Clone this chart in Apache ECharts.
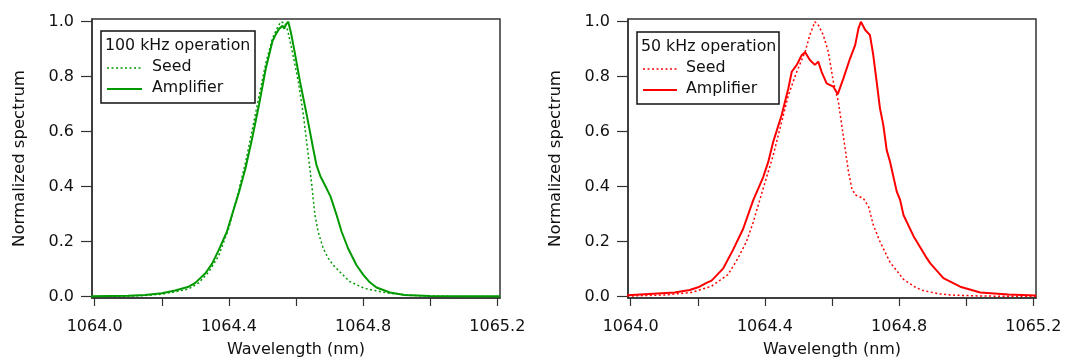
<!DOCTYPE html>
<html>
<head>
<meta charset="utf-8">
<script src="https://cdn.jsdelivr.net/npm/echarts@6/dist/echarts.min.js"></script>
<style>
html,body{margin:0;padding:0;background:#fff;}
#chart{width:1066px;height:360px;}
</style>
</head>
<body>
<div id="chart"></div>
<script>
// ---------- data ----------
const xTicks = [1064.0, 1064.2, 1064.4, 1064.6, 1064.8, 1065.0, 1065.2];
const xLabels = [1064.0, 1064.4, 1064.8, 1065.2];
const yTicks = [0, 0.2, 0.4, 0.6, 0.8, 1.0];

const panelTitles = ['100 kHz operation', '50 kHz operation'];
const seriesNames = ['Seed', 'Amplifier'];

// 100 kHz panel
const ampLeftX = [1063.99, 1064.10, 1064.15, 1064.20, 1064.24, 1064.28, 1064.30, 1064.33, 1064.35, 1064.37, 1064.394, 1064.41, 1064.43, 1064.45, 1064.47, 1064.49, 1064.51, 1064.53, 1064.54, 1064.55, 1064.56, 1064.565, 1064.57, 1064.577, 1064.585, 1064.594, 1064.612, 1064.632, 1064.651, 1064.661, 1064.672, 1064.681, 1064.691, 1064.703, 1064.721, 1064.736, 1064.755, 1064.78, 1064.80, 1064.82, 1064.84, 1064.88, 1064.923, 1065.0, 1065.1, 1065.208];
const ampLeftY = [0.001, 0.003, 0.006, 0.012, 0.022, 0.036, 0.05, 0.085, 0.12, 0.17, 0.236, 0.30, 0.38, 0.47, 0.58, 0.70, 0.83, 0.93, 0.955, 0.975, 0.985, 0.975, 0.99, 1.0, 0.96, 0.903, 0.782, 0.661, 0.54, 0.479, 0.44, 0.418, 0.394, 0.364, 0.297, 0.236, 0.176, 0.115, 0.08, 0.052, 0.033, 0.015, 0.006, 0.002, 0.001, 0.001];

const seedLeftX = [1063.99, 1064.10, 1064.15, 1064.20, 1064.25, 1064.28, 1064.31, 1064.34, 1064.37, 1064.40, 1064.43, 1064.45, 1064.47, 1064.49, 1064.51, 1064.53, 1064.545, 1064.555, 1064.565, 1064.575, 1064.587, 1064.607, 1064.622, 1064.634, 1064.646, 1064.656, 1064.666, 1064.681, 1064.696, 1064.711, 1064.734, 1064.76, 1064.804, 1064.873, 1064.95, 1065.05, 1065.208];
const seedLeftY = [0.0, 0.002, 0.004, 0.009, 0.02, 0.028, 0.05, 0.09, 0.15, 0.25, 0.39, 0.49, 0.61, 0.73, 0.85, 0.94, 0.98, 1.0, 0.995, 0.97, 0.903, 0.782, 0.661, 0.54, 0.418, 0.30, 0.236, 0.176, 0.14, 0.115, 0.086, 0.055, 0.03, 0.013, 0.004, 0.001, 0.0];

// 50 kHz panel
const ampRightX = [1063.99, 1064.131, 1064.176, 1064.201, 1064.226, 1064.241, 1064.266, 1064.276, 1064.305, 1064.335, 1064.365, 1064.395, 1064.41, 1064.425, 1064.45, 1064.47, 1064.48, 1064.495, 1064.51, 1064.52, 1064.534, 1064.549, 1064.559, 1064.569, 1064.584, 1064.604, 1064.617, 1064.634, 1064.654, 1064.669, 1064.679, 1064.686, 1064.699, 1064.713, 1064.723, 1064.733, 1064.743, 1064.753, 1064.763, 1064.773, 1064.793, 1064.803, 1064.813, 1064.843, 1064.883, 1064.893, 1064.932, 1064.982, 1065.042, 1065.126, 1065.208];
const ampRightY = [0.005, 0.015, 0.024, 0.034, 0.05, 0.058, 0.09, 0.103, 0.17, 0.246, 0.35, 0.435, 0.49, 0.564, 0.661, 0.758, 0.818, 0.843, 0.879, 0.889, 0.861, 0.843, 0.855, 0.818, 0.776, 0.764, 0.736, 0.794, 0.867, 0.915, 0.976, 1.0, 0.97, 0.952, 0.879, 0.782, 0.685, 0.624, 0.533, 0.491, 0.382, 0.352, 0.297, 0.22, 0.139, 0.121, 0.067, 0.036, 0.015, 0.008, 0.004];

const seedRightX = [1063.99, 1064.10, 1064.181, 1064.241, 1064.29, 1064.32, 1064.345, 1064.365, 1064.395, 1064.425, 1064.45, 1064.47, 1064.495, 1064.52, 1064.534, 1064.549, 1064.559, 1064.574, 1064.589, 1064.604, 1064.619, 1064.629, 1064.639, 1064.649, 1064.659, 1064.669, 1064.693, 1064.709, 1064.723, 1064.743, 1064.773, 1064.813, 1064.85, 1064.872, 1064.92, 1064.952, 1065.05, 1065.208];
const seedRightY = [0.002, 0.006, 0.015, 0.038, 0.08, 0.14, 0.2, 0.27, 0.394, 0.515, 0.636, 0.733, 0.818, 0.891, 0.952, 1.0, 0.988, 0.952, 0.891, 0.782, 0.709, 0.624, 0.54, 0.455, 0.394, 0.37, 0.358, 0.327, 0.261, 0.2, 0.125, 0.063, 0.033, 0.022, 0.01, 0.006, 0.002, 0.001];

const green = '#009a00';
const red = '#ff0000';

// ---------- chart ----------
const zip = (xs, ys) => xs.map((x, i) => [x, ys[i]]);
const FONT = 'DejaVu Sans';
const axisColor = '#333';

function makeX(gi) {
  return {
    type: 'value', gridIndex: gi, min: 1063.992, max: 1065.208,
    name: 'Wavelength (nm)', nameLocation: 'middle', nameGap: 44,
    nameTextStyle: { fontFamily: FONT, fontSize: 16, color: '#111' },
    axisLine: { show: true, onZero: false, lineStyle: { color: axisColor, width: 1.5 } },
    axisTick: { show: true, inside: false, length: 8, customValues: xTicks, lineStyle: { color: axisColor, width: 1.2 } },
    axisLabel: { customValues: xLabels, margin: 21, fontFamily: FONT, fontSize: 16, color: '#111', formatter: v => v.toFixed(1) },
    splitLine: { show: false }
  };
}
function makeY(gi) {
  return {
    type: 'value', gridIndex: gi, min: -0.005, max: 1.01,
    name: 'Normalized spectrum', nameLocation: 'middle', nameGap: 64,
    nameTextStyle: { fontFamily: FONT, fontSize: 16.5, color: '#111' },
    axisLine: { show: true, onZero: false, lineStyle: { color: axisColor, width: 1.5 } },
    axisTick: { show: true, inside: false, length: 11, customValues: yTicks, lineStyle: { color: axisColor, width: 1.2 } },
    axisLabel: { customValues: yTicks, margin: 18, fontFamily: FONT, fontSize: 16, color: '#111', formatter: v => v.toFixed(1) },
    splitLine: { show: false }
  };
}

function lineSeries(name, gi, data, color, dotted) {
  return {
    name, type: 'line', xAxisIndex: gi, yAxisIndex: gi, data,
    showSymbol: false, symbol: 'none', smooth: false, animation: false,
    lineStyle: dotted ? { color, width: 1.5, type: [2, 2.5] } : { color, width: 2 },
    itemStyle: { color }
  };
}

function legendBox(x, y, w, h, title, color, lineX1, lineX2, textX) {
  return {
    type: 'group', children: [
      { type: 'rect', shape: { x, y, width: w, height: h }, style: { fill: '#fff', stroke: '#111', lineWidth: 1.5 }, z: 100 },
      { type: 'text', x: x + 4, y: y + 15, style: { text: title, fontFamily: FONT, fontSize: 15.8, fill: '#111', verticalAlign: 'middle' }, z: 101 },
      { type: 'line', shape: { x1: lineX1, y1: y + 37, x2: lineX2, y2: y + 37 }, style: { stroke: color, lineWidth: 1.5, lineDash: [2, 2.5] }, z: 101 },
      { type: 'text', x: textX, y: y + 36, style: { text: seriesNames[0], fontFamily: FONT, fontSize: 15.8, fill: '#111', verticalAlign: 'middle' }, z: 101 },
      { type: 'line', shape: { x1: lineX1, y1: y + 58, x2: lineX2, y2: y + 58 }, style: { stroke: color, lineWidth: 2 }, z: 101 },
      { type: 'text', x: textX, y: y + 57, style: { text: seriesNames[1], fontFamily: FONT, fontSize: 15.8, fill: '#111', verticalAlign: 'middle' }, z: 101 }
    ]
  };
}

const chart = echarts.init(document.getElementById('chart'), null, { renderer: 'canvas' });
chart.setOption({
  backgroundColor: '#fff',
  animation: false,
  grid: [
    { left: 92, top: 19, width: 408, height: 279, containLabel: false, outerBoundsMode: 'none', show: true, borderColor: axisColor, borderWidth: 1.5, backgroundColor: 'transparent' },
    { left: 628, top: 19, width: 408, height: 279, containLabel: false, outerBoundsMode: 'none', show: true, borderColor: axisColor, borderWidth: 1.5, backgroundColor: 'transparent' }
  ],
  xAxis: [makeX(0), makeX(1)],
  yAxis: [makeY(0), makeY(1)],
  series: [
    lineSeries(seriesNames[0], 0, zip(seedLeftX, seedLeftY), green, true),
    lineSeries(seriesNames[1], 0, zip(ampLeftX, ampLeftY), green, false),
    lineSeries(seriesNames[0], 1, zip(seedRightX, seedRightY), red, true),
    lineSeries(seriesNames[1], 1, zip(ampRightX, ampRightY), red, false)
  ],
  graphic: [
    legendBox(101, 31, 154, 72, panelTitles[0], green, 107, 142, 152),
    legendBox(637, 32, 142, 72, panelTitles[1], red, 643, 677, 686)
  ]
});
</script>
</body>
</html>
